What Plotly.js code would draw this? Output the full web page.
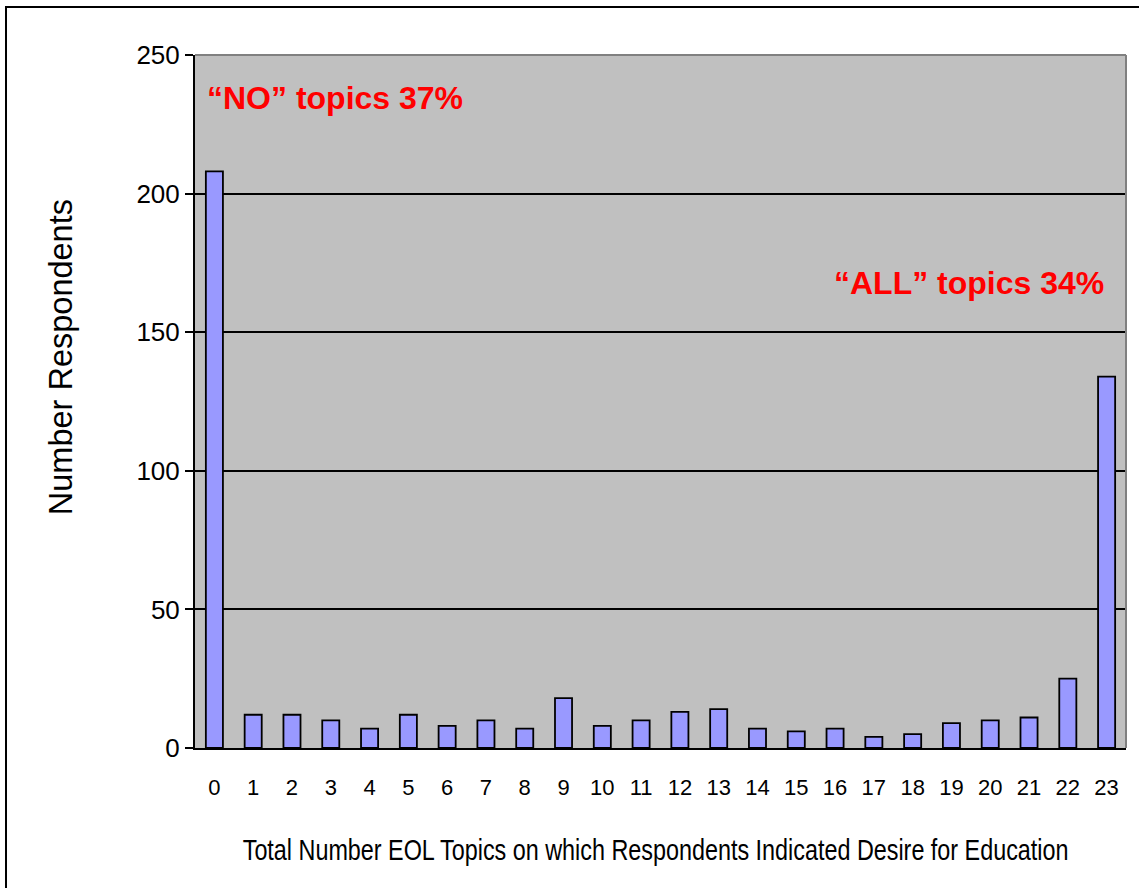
<!DOCTYPE html>
<html>
<head>
<meta charset="utf-8">
<script src="https://cdn.plot.ly/plotly-3.0.1.min.js"></script>
<style>
  html, body { margin: 0; padding: 0; background: #ffffff; }
  #chart { width: 1139px; height: 888px; }
</style>
</head>
<body>
<div id="chart"></div>
<script>
// Number of end-of-life topics each respondent wanted education on
const topicCounts = [0, 1, 2, 3, 4, 5, 6, 7, 8, 9, 10, 11, 12, 13, 14, 15, 16, 17, 18, 19, 20, 21, 22, 23];
const respondents = [208, 12, 12, 10, 7, 12, 8, 10, 7, 18, 8, 10, 13, 14, 7, 6, 7, 4, 5, 9, 10, 11, 25, 134];
const yTicks = [0, 50, 100, 150, 200, 250];

const xTitle = 'Total Number EOL Topics on which Respondents Indicated Desire for Education';
const yTitle = 'Number Respondents';
const noLabel = '\u201cNO\u201d topics 37%';
const allLabel = '\u201cALL\u201d topics 34%';

const narrow = '"Liberation Sans Narrow", "Arial Narrow", "Liberation Sans", Arial, sans-serif';
const regular = '"Liberation Sans", Arial, sans-serif';

const trace = {
  type: 'bar',
  x: topicCounts,
  y: respondents,
  marker: { color: '#9999ff', line: { color: '#000000', width: 1.8 } },
  hoverinfo: 'x+y'
};

const layout = {
  width: 1139,
  height: 888,
  margin: { l: 195, r: 13, t: 55, b: 140, pad: 0 },
  paper_bgcolor: '#ffffff',
  plot_bgcolor: '#c0c0c0',
  bargap: 0.56,
  showlegend: false,
  xaxis: {
    range: [-0.5, 23.5],
    tickmode: 'array',
    tickvals: topicCounts,
    ticktext: topicCounts.map(String),
    ticks: '',
    ticklabelstandoff: 19,
    showgrid: false,
    zeroline: false,
    showline: true,
    linecolor: '#000000',
    linewidth: 2,
    tickfont: { family: narrow, size: 22, color: '#000000' },
    fixedrange: true
  },
  yaxis: {
    range: [0, 250],
    tickmode: 'array',
    tickvals: yTicks,
    ticktext: yTicks.map(String),
    ticks: 'outside',
    ticklen: 8,
    tickwidth: 2,
    tickcolor: '#000000',
    showgrid: true,
    gridcolor: '#000000',
    gridwidth: 2,
    zeroline: false,
    showline: true,
    linecolor: '#000000',
    linewidth: 2,
    tickfont: { family: narrow, size: 26, color: '#000000' },
    fixedrange: true
  },
  shapes: [
    // grey top and right edges of the plotting area
    { type: 'line', xref: 'paper', yref: 'paper', x0: 0, x1: 1, y0: 1, y1: 1,
      line: { color: '#808080', width: 2 }, layer: 'above' },
    { type: 'line', xref: 'paper', yref: 'paper', x0: 1, x1: 1, y0: 0, y1: 1,
      line: { color: '#808080', width: 2 }, layer: 'above' },
    // outer chart frame
    { type: 'rect', xref: 'paper', yref: 'paper', x0: -0.2030, x1: 1.03, y0: -0.23, y1: 1.0693,
      line: { color: '#000000', width: 2 }, fillcolor: 'rgba(0,0,0,0)', layer: 'above' }
  ],
  annotations: [
    // axis titles
    { xref: 'paper', yref: 'paper', x: -0.1439, y: 0.564, text: yTitle, textangle: -90, showarrow: false,
      font: { family: regular, size: 32.5, color: '#000000' }, xanchor: 'center', yanchor: 'middle' },
    { xref: 'paper', yref: 'paper', x: 0.4941, y: -0.1472, text: xTitle, showarrow: false,
      font: { family: narrow, size: 29, color: '#000000' }, xanchor: 'center', yanchor: 'middle' },
    // callouts for the two extremes
    { xref: 'x', yref: 'y', x: 3.12, y: 234.5, text: noLabel, showarrow: false,
      font: { family: regular, size: 32, color: '#ff0000', weight: 'bold' }, xanchor: 'center', yanchor: 'middle' },
    { xref: 'x', yref: 'y', x: 19.44, y: 167.7, text: allLabel, showarrow: false,
      font: { family: regular, size: 32, color: '#ff0000', weight: 'bold' }, xanchor: 'center', yanchor: 'middle' }
  ]
};

Plotly.newPlot('chart', [trace], layout, { displayModeBar: false, staticPlot: true }).then(function (gd) {
  // the horizontal axis title is set in a condensed face: narrow it horizontally about its centre
  gd.querySelectorAll('.annotation-text').forEach(function (t) {
    if (t.textContent === xTitle) {
      const w = t.getComputedTextLength();
      const cx = parseFloat(t.getAttribute('x')) || 0;
      const k = 826 / w;
      t.setAttribute('transform', 'translate(' + cx + ',0) scale(' + k + ',1) translate(' + (-cx) + ',0)');
    }
  });
});
</script>
</body>
</html>
